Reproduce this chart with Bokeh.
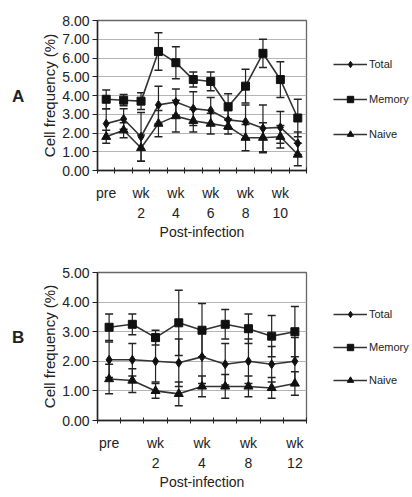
from bokeh.plotting import figure
from bokeh.models import (ColumnDataSource, Whisker, TeeHead, FixedTicker, Legend,
                          LegendItem, Range1d, Div)
from bokeh.layouts import column, row
from bokeh.embed import file_html
from bokeh.resources import INLINE

# ---------------- data ----------------
# Panel A : 12 time points
a_labels = {1: "pre", 3: "wk\n2", 5: "wk\n4", 7: "wk\n6", 9: "wk\n8", 11: "wk\n10"}
a_x = list(range(1, 13))
total_a = [2.5, 2.75, 1.8, 3.5, 3.65, 3.3, 3.2, 2.7, 2.6, 2.25, 2.3, 1.45]
total_a_err = [0.8, 0.55, 1.3, 1.0, 0.7, 0.9, 0.7, 0.5, 0.9, 1.25, 0.85, 0.6]
memory_a = [3.8, 3.75, 3.7, 6.35, 5.75, 4.85, 4.75, 3.4, 4.5, 6.25, 4.85, 2.8]
memory_a_err = [0.5, 0.3, 0.45, 1.0, 0.85, 0.4, 0.5, 0.7, 0.9, 0.75, 0.95, 1.0]
naive_a = [1.8, 2.15, 1.2, 2.5, 2.9, 2.65, 2.5, 2.35, 1.75, 1.75, 1.8, 0.85]
naive_a_err = [0.35, 0.4, 0.7, 0.7, 0.85, 0.6, 0.55, 0.4, 0.7, 0.8, 0.6, 0.6]

# Panel B : 9 time points
b_labels = {1: "pre", 3: "wk\n2", 5: "wk\n4", 7: "wk\n8", 9: "wk\n12"}
b_x = list(range(1, 10))
total_b = [2.05, 2.05, 2.0, 1.95, 2.15, 1.9, 2.0, 1.9, 2.0]
total_b_err = [0.6, 0.55, 0.7, 0.8, 0.9, 0.7, 0.75, 0.6, 0.8]
memory_b = [3.15, 3.25, 2.8, 3.3, 3.05, 3.25, 3.1, 2.85, 3.0]
memory_b_err = [0.45, 0.35, 0.25, 1.1, 0.9, 0.5, 0.5, 0.7, 0.85]
naive_b = [1.4, 1.35, 1.0, 0.9, 1.15, 1.15, 1.15, 1.1, 1.25]
naive_b_err = [0.5, 0.4, 0.25, 0.4, 0.35, 0.4, 0.35, 0.35, 0.4]

series_names = ["Total", "Memory", "Naive"]
markers = {"Total": "diamond", "Memory": "square", "Naive": "triangle"}
msizes = {"Total": 9, "Memory": 8, "Naive": 9}

FONT = "Liberation Sans"
INK = "#222222"
LEFT_DIV = 30


def make_panel(xs, labels, ymax, series, top, frame_h, bottom,
               leg_y, leg_spacing):
    n = len(xs)
    p = figure(frame_width=209, frame_height=frame_h,
               min_border_left=97 - LEFT_DIV, min_border_right=106,
               min_border_top=top, min_border_bottom=bottom,
               x_range=Range1d(0.5, n + 0.5), y_range=Range1d(0, ymax),
               output_backend="svg", toolbar_location=None,
               background_fill_color="white", border_fill_color="white")
    p.outline_line_color = "#666666"
    p.outline_line_width = 1.3

    # x axis
    xa = p.xaxis[0]
    xa.ticker = FixedTicker(ticks=sorted(labels.keys()),
                            minor_ticks=[i + 0.5 for i in range(0, n + 1)])
    xa.major_label_overrides = labels
    xa.major_tick_line_color = None
    xa.minor_tick_in = 3
    xa.minor_tick_out = 3
    xa.minor_tick_line_color = INK
    xa.axis_line_color = INK
    xa.axis_line_width = 1.5
    xa.major_label_text_font = FONT
    xa.major_label_text_font_size = "14px"
    xa.major_label_text_color = INK
    xa.major_label_text_line_height = 1.25
    xa.major_label_standoff = 8
    xa.axis_label = "Post-infection"
    xa.axis_label_text_font = FONT
    xa.axis_label_text_font_size = "14px"
    xa.axis_label_text_font_style = "normal"
    xa.axis_label_text_color = INK
    xa.axis_label_standoff = 0

    # y axis
    ya = p.yaxis[0]
    ya.ticker = FixedTicker(ticks=list(range(0, ymax + 1)))
    ya.major_label_overrides = {i: f"{i:.2f}" for i in range(0, ymax + 1)}
    ya.major_tick_in = 0
    ya.major_tick_out = 5
    ya.minor_tick_line_color = None
    ya.major_tick_line_color = INK
    ya.axis_line_color = INK
    ya.axis_line_width = 1.5
    ya.major_label_text_font = FONT
    ya.major_label_text_font_size = "14px"
    ya.major_label_text_color = INK
    ya.major_label_standoff = 3
    ya.axis_label = "Cell frequency (%)"
    ya.axis_label_text_font = FONT
    ya.axis_label_text_font_size = "15px"
    ya.axis_label_text_font_style = "normal"
    ya.axis_label_text_color = INK
    ya.axis_label_standoff = 1

    p.xgrid.visible = False
    p.ygrid.grid_line_color = "#b5b5b5"
    p.ygrid.grid_line_width = 1

    items = []
    for name in series_names:
        vals, errs = series[name]
        src = ColumnDataSource(dict(
            x=xs, y=vals,
            lo=[v - e for v, e in zip(vals, errs)],
            hi=[v + e for v, e in zip(vals, errs)]))
        w = Whisker(source=src, base="x", lower="lo", upper="hi",
                    line_color=INK, line_width=1.2,
                    upper_head=TeeHead(size=8, line_color=INK, line_width=1.5),
                    lower_head=TeeHead(size=8, line_color=INK, line_width=1.5))
        p.add_layout(w)
        lr = p.line("x", "y", source=src, line_color="#333333", line_width=1.6)
        sr = p.scatter("x", "y", source=src, marker=markers[name],
                       size=msizes[name], fill_color="#111111",
                       line_color="#111111")
        items.append(LegendItem(label=name, renderers=[lr, sr]))

    leg = Legend(items=items, location=(27, leg_y),
                 glyph_width=34, glyph_height=16, label_height=20,
                 spacing=leg_spacing, padding=0, margin=0,
                 label_standoff=2, border_line_color=None,
                 background_fill_alpha=0,
                 label_text_font=FONT, label_text_font_size="11px",
                 label_text_color=INK)
    p.add_layout(leg, "right")
    return p


def letter_div(letter, pad_top, height):
    return Div(text=letter, width=LEFT_DIV, height=height, margin=0,
               styles={"font-family": FONT, "font-size": "17px",
                       "font-weight": "bold", "color": INK,
                       "padding-top": f"{pad_top}px", "padding-left": "12px",
                       "box-sizing": "border-box", "line-height": "20px"})


pa = make_panel(a_x, a_labels, 8,
                {"Total": (total_a, total_a_err),
                 "Memory": (memory_a, memory_a_err),
                 "Naive": (naive_a, naive_a_err)},
                top=20, frame_h=150, bottom=75,
                leg_y=26, leg_spacing=15)

pb = make_panel(b_x, b_labels, 5,
                {"Total": (total_b, total_b_err),
                 "Memory": (memory_b, memory_b_err),
                 "Naive": (naive_b, naive_b_err)},
                top=27, frame_h=148, bottom=68,
                leg_y=30, leg_spacing=13)

layout = column(row(letter_div("A", 87, 245), pa, spacing=0),
                row(letter_div("B", 83, 243), pb, spacing=0),
                spacing=0)
open("out.html", "w").write(file_html(layout, INLINE))
